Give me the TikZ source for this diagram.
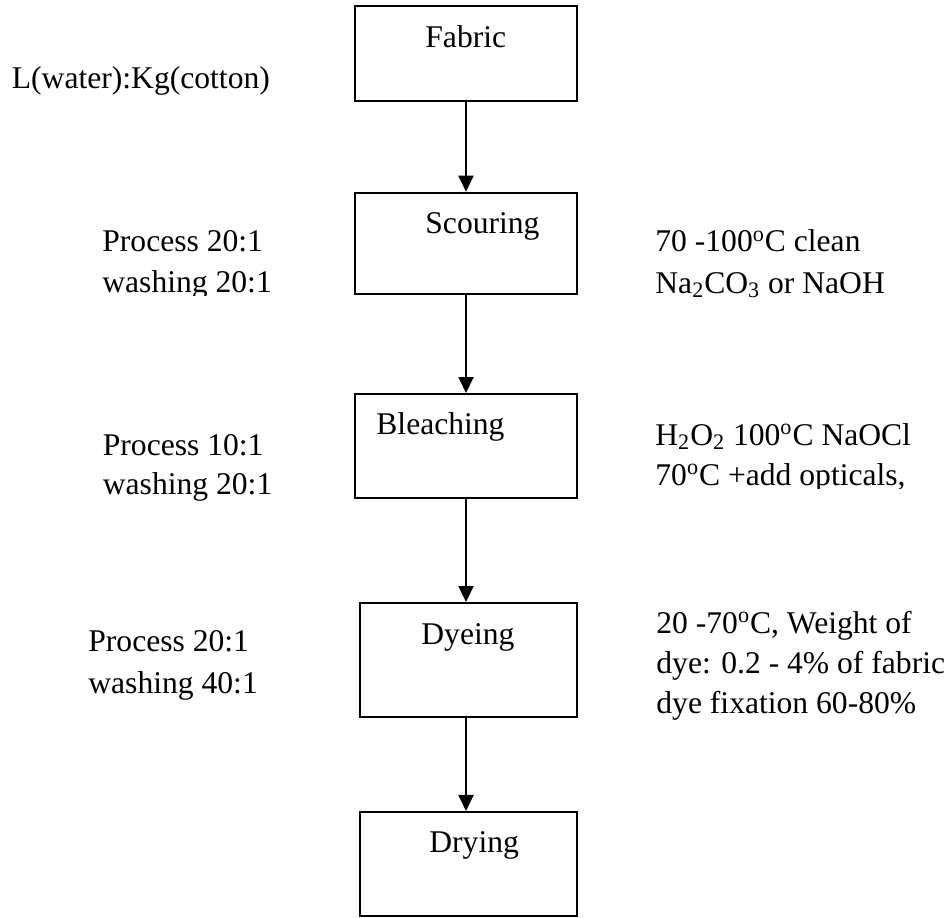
\documentclass[tikz,border=0pt]{standalone}
\usepackage{fontspec}
\setmainfont{Liberation Serif}
\usetikzlibrary{arrows.meta}
\tikzset{
  box/.style={draw, line width=1pt, inner sep=0pt, minimum width=#1},
  box/.default={111pt},
  txt/.style={anchor=base west, inner sep=0pt, font=\fontsize{15.8}{19}\selectfont},
  flow/.style={line width=1pt, -{Triangle[length=8pt,width=7.5pt]}}
}
\newcommand{\degC}{\textsuperscript{o}C}
\begin{document}
\begin{tikzpicture}[x=0.5pt,y=-0.5pt]
\useasboundingbox (0,0) rectangle (946,917);
% boxes
\node[box, minimum height=47.65pt] (fabric) at (466,53.35) {};
\node[box, minimum height=50.65pt] (scouring) at (466,243.35) {};
\node[box, minimum height=52pt] (bleaching) at (466,446) {};
\node[box=108.5pt, minimum height=56.75pt] (dyeing) at (468.5,659.75) {};
\node[box=108.5pt, minimum height=51.85pt] (drying) at (468.5,863.8) {};
% box labels
\node[txt] (tfabric) at (425,47) {Fabric};
\node[txt] (tscouring) at (425,233) {Scouring};
\node[txt] (tbleaching) at (376,434) {Bleaching};
\node[txt] (tdyeing) at (421,644) {Dyeing};
\node[txt] (tdrying) at (429,852) {Drying};
% connectors
\draw[flow] (fabric.south) -- (scouring.north);
\draw[flow] (scouring.south) -- (bleaching.north);
\draw[flow] (bleaching.south) -- (bleaching.south |- dyeing.north);
\draw[flow] (bleaching.south |- dyeing.south) -- (bleaching.south |- drying.north);
% left notes
\node[txt] (ratio) at (11.5,88) {L(water):Kg(cotton)};
\node[txt] (sp1) at (102,251.7) {Process 20:1};
\begin{scope}
\clip (0,260) rectangle (350,295.5);
\node[txt] (sw1) at (102,292.7) {washing 20:1};
\end{scope}
\node[txt] (bp1) at (102.5,455) {Process 10:1};
\node[txt] (bw1) at (102.5,494) {washing 20:1};
\node[txt] (dp1) at (88,651.7) {Process 20:1};
\node[txt] (dw1) at (88,693) {washing 40:1};
% right notes
\node[txt] (sr1) at (655,251.7) {70 -100\degC\ clean};
\node[txt] (sr2) at (655,293) {Na\textsubscript{2}CO\textsubscript{3} or NaOH};
\node[txt] (br1) at (655,445) {H\textsubscript{2}O\textsubscript{2} 100\degC\ NaOCl};
\begin{scope}
\clip (600,455) rectangle (946,488.5);
\node[txt] (br2) at (655,485) {70\degC\ +add opticals,};
\end{scope}
\node[txt] (dr1) at (656,633) {20 -70\degC, Weight of};
\node[txt] (dr2) at (656,673) {dye: 0.2 - 4\% of fabric};
\node[txt] (dr3) at (656,713) {dye fixation 60-80\%};
\end{tikzpicture}
\end{document}
